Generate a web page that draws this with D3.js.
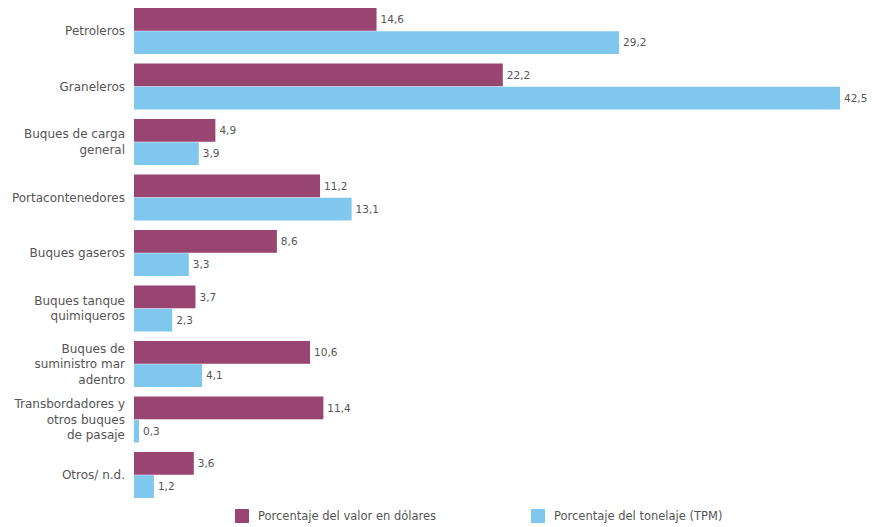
<!DOCTYPE html>
<html>
<head>
<meta charset="utf-8">
<script src="https://cdn.jsdelivr.net/npm/d3@7"></script>
<style>
  html, body { margin: 0; padding: 0; background: #ffffff; }
  svg { display: block; font-family: "DejaVu Sans", Verdana, sans-serif; }
</style>
</head>
<body>
<svg id="chart" width="878" height="527"></svg>
<script>
// Ship types (each entry is a list of label lines)
const categories = [
  ["Petroleros"],
  ["Graneleros"],
  ["Buques de carga", "general"],
  ["Portacontenedores"],
  ["Buques gaseros"],
  ["Buques tanque", "quimiqueros"],
  ["Buques de", "suministro mar", "adentro"],
  ["Transbordadores y", "otros buques", "de pasaje"],
  ["Otros/ n.d."]
];
// Share of fleet value in dollars (%)
const valorDolares = [14.6, 22.2, 4.9, 11.2, 8.6, 3.7, 10.6, 11.4, 3.6];
// Share of deadweight tonnage (%)
const tonelajeTPM = [29.2, 42.5, 3.9, 13.1, 3.3, 2.3, 4.1, 0.3, 1.2];

const seriesNames = ["Porcentaje del valor en dólares", "Porcentaje del tonelaje (TPM)"];
const seriesColors = ["#984671", "#80c7ee"];

const svg = d3.select("#chart");
const keys = categories.map(c => c.join(" "));

const x = d3.scaleLinear().domain([0, 42.5]).range([134, 840]);
const y = d3.scaleBand().domain(keys).range([8, 498]).paddingInner(0.171).paddingOuter(0);
const sub = d3.scaleBand().domain([0, 1]).range([0, y.bandwidth()]).paddingInner(0.02);

const fmt = v => d3.format(".1f")(v).replace(".", ",");

const rows = keys.map((k, i) => ({ key: k, lines: categories[i], vals: [valorDolares[i], tonelajeTPM[i]] }));

const g = svg.append("g");
const groups = g.selectAll("g.cat").data(rows).join("g")
  .attr("class", "cat")
  .attr("transform", d => `translate(0,${y(d.key)})`);

groups.selectAll("rect").data(d => d.vals.map((v, s) => ({ v, s }))).join("rect")
  .attr("x", x(0))
  .attr("y", d => sub(d.s))
  .attr("width", d => x(d.v) - x(0))
  .attr("height", sub.bandwidth())
  .attr("fill", d => seriesColors[d.s]);

groups.selectAll("text.val").data(d => d.vals.map((v, s) => ({ v, s }))).join("text")
  .attr("class", "val")
  .attr("x", d => x(d.v) + 4)
  .attr("y", d => sub(d.s) + sub.bandwidth() / 2)
  .attr("dy", "0.35em")
  .attr("font-size", 10.5)
  .attr("fill", "#555555")
  .text(d => fmt(d.v));

// Category labels, right-aligned, centred on each group
const lineH = 15.5;
groups.append("text")
  .attr("text-anchor", "end")
  .attr("font-size", 12)
  .attr("fill", "#555555")
  .each(function(d) {
    const t = d3.select(this);
    const n = d.lines.length;
    const top = y.bandwidth() / 2 - (n - 1) * lineH / 2;
    d.lines.forEach((ln, j) => {
      t.append("tspan")
        .attr("x", 125)
        .attr("y", top + j * lineH)
        .attr("dy", "0.35em")
        .text(ln);
    });
  });

// Legend
const legendX = [235, 531];
const legend = svg.append("g").selectAll("g").data(seriesNames).join("g")
  .attr("transform", (d, i) => `translate(${legendX[i]},509)`);
legend.append("rect").attr("width", 14).attr("height", 14).attr("fill", (d, i) => seriesColors[i]);
legend.append("text")
  .attr("x", 23).attr("y", 7).attr("dy", "0.35em")
  .attr("font-size", 11.5).attr("fill", "#555555")
  .text(d => d);
</script>
</body>
</html>
